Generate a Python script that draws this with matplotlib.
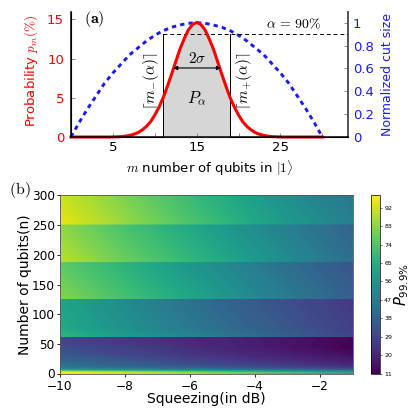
import numpy as np
import matplotlib; matplotlib.use('Agg')
import matplotlib.pyplot as plt

plt.rcParams['mathtext.fontset'] = 'cm'
plt.rcParams['font.family'] = 'DejaVu Sans'

W, H = 415, 413

# panel (a), values
m_vals = list(range(0, 31))
m_half = [i / 2 for i in range(0, 61)]
prob_pct = [0, 0, 0, 0, 0, 0, 0, 0, 0, 0, 0.01, 0.03, 0.05, 0.11, 0.2, 0.35, 0.56, 0.9, 1.35, 1.95,
            2.8, 3.8, 5.0, 6.45, 8.0, 9.6, 11.2, 12.5, 13.65, 14.35, 14.6,
            14.35, 13.65, 12.5, 11.2, 9.6, 8.0, 6.45, 5.0, 3.8, 2.8, 1.95, 1.35, 0.9, 0.56, 0.35,
            0.2, 0.11, 0.05, 0.03, 0.01, 0, 0, 0, 0, 0, 0, 0, 0, 0, 0]
cut_size = [0.0, 0.13, 0.25, 0.36, 0.47, 0.56, 0.64, 0.72, 0.78, 0.84, 0.89, 0.93, 0.96, 0.98, 0.995, 1.0,
            0.995, 0.98, 0.96, 0.93, 0.89, 0.84, 0.78, 0.72, 0.64, 0.56, 0.47, 0.36, 0.25, 0.13, 0.0]
m_minus, m_plus = 11, 19
alpha_line = 13.1

# panel (b), values
squeezing = [-10, -7.75, -5.5, -3.25, -1]
n_rows = [0, 0.8, 2, 3.5, 5, 7, 10, 14, 20, 30, 45, 61.9,
          62, 75, 125.9, 126, 187.9, 188, 251.9, 252, 300]
p_table = [
    [70, 66, 62, 58, 56],
    [97, 90, 82, 72, 62],
    [96, 88, 78, 68, 58],
    [82, 74, 66, 58, 50],
    [66, 60, 54, 47, 40],
    [54, 48, 43, 37, 31],
    [46, 41, 35, 30, 25],
    [43, 37, 31, 26, 21],
    [40, 34, 28, 23, 18],
    [35, 29, 24, 19, 14],
    [31, 26, 21, 16, 11],
    [28, 24, 20, 16, 12],
    [68, 58, 48, 38, 29],
    [64, 54, 44, 35, 27],
    [61, 51, 41, 32, 25],
    [82, 71, 60, 48, 37],
    [76, 65, 54, 43, 33],
    [89, 77, 66, 54, 42],
    [83, 71, 60, 49, 38],
    [95, 83, 71, 59, 48],
    [91, 79, 67, 55, 45],
]
cbar_ticks = [11, 20, 29, 38, 47, 56, 65, 74, 83, 92]


def px_axes(fig, left, top, right, bottom):
    return fig.add_axes([left / W, 1 - bottom / H, (right - left) / W, (bottom - top) / H])


fig = plt.figure(figsize=(W / 100, H / 100), dpi=100)

# (a)
ax = px_axes(fig, 71, 11.5, 347.5, 137)
ax2 = ax.twinx()
ax.set_zorder(ax2.get_zorder() + 1)
ax.patch.set_visible(False)

ax2.plot(m_vals, cut_size, color='#1a1aff', lw=2.1, ls=(0, (1.5, 1.4)), clip_on=False)
ax2.set_ylim(0, 1.098)
ax2.set_yticks([0, 0.2, 0.4, 0.6, 0.8, 1])
ax2.set_yticklabels(['0', '0.2', '0.4', '0.6', '0.8', '1'], color='#1a1aff', fontsize=9.5)
ax2.tick_params(axis='y', direction='in', length=3, width=0.6, color='#777777', pad=4)
ax2.set_ylabel('Normalized cut size', color='#1a1aff', fontsize=9, labelpad=5)

m_fill = [m for m in m_half if m_minus <= m <= m_plus]
p_fill = [prob_pct[m_half.index(m)] for m in m_fill]
ax.fill_between(m_fill, p_fill, 0, color='#d6d6d6', lw=0)
ax.plot([m_minus, m_minus], [0, alpha_line], color='k', lw=0.7)
ax.plot([m_plus, m_plus], [0, alpha_line], color='k', lw=0.7)
ax.plot([m_minus, 33], [alpha_line, alpha_line], color='k', lw=0.7, ls=(0, (4, 3)))
ax.plot(m_half, prob_pct, color='#ff0000', lw=2.2, clip_on=False)
ax.annotate('', xy=(12.2, 8.8), xytext=(17.9, 8.8),
            arrowprops=dict(arrowstyle='<|-|>', color='k', lw=0.8, mutation_scale=6, shrinkA=0, shrinkB=0))
ax.text(15, 10, r'$2\sigma$', ha='center', va='center', fontsize=11)
ax.text(15, 4.9, r'$P_{\alpha}$', ha='center', va='center', fontsize=12)
ax.text(9.5, 7.1, r'$\lceil m_{-}(\alpha)\rceil$', rotation=90, ha='center', va='center', fontsize=11)
ax.text(20.6, 7.1, r'$\lceil m_{+}(\alpha)\rceil$', rotation=90, ha='center', va='center', fontsize=11)
ax.text(26.6, 14.35, r'$\alpha\,=\,90\%$', ha='center', va='center', fontsize=10)
ax.text(1.5, 15, r'$\mathbf{(a)}$', ha='left', va='center', fontsize=11.5)

ax.set_xlim(0, 33)
ax.set_ylim(0, 16)
ax.set_xticks([5, 15, 25])
ax.set_xticks([10, 20, 30], minor=True)
ax.set_yticks([0, 5, 10, 15])
ax.set_yticklabels(['0', '5', '10', '15'], color='#ff0000', fontsize=9.5)
ax.tick_params(axis='x', labelsize=9.5, direction='in', length=3, width=0.6, color='#777777', pad=3)
ax.tick_params(axis='x', which='minor', direction='in', length=3, width=0.6, color='#777777')
ax.tick_params(axis='y', direction='in', length=3, width=0.6, color='#777777', pad=5)
ax.set_ylabel(r'Probability $p_m(\%)$', color='#ff0000', fontsize=9.5, labelpad=5, y=0.53)
ax.set_xlabel(r'$m$ number of qubits in $|1\rangle$', fontsize=9.5, labelpad=2.5)
for a in (ax, ax2):
    a.spines['top'].set_visible(False)
ax2.spines['right'].set_color('#555555')
ax2.spines['right'].set_linewidth(1.4)
ax.spines['right'].set_visible(False)
ax.spines['left'].set_linewidth(1.1)
ax.spines['bottom'].set_linewidth(1.1)

# (b)
bx = px_axes(fig, 59.5, 195.5, 352.5, 373.5)
mesh = bx.contourf(squeezing, n_rows, np.array(p_table), levels=np.linspace(11, 98, 88),
                   cmap='viridis', antialiased=False)
bx.set_xlim(-10, -1)
bx.set_ylim(0, 300)
bx.set_xticks([-10, -8, -6, -4, -2])
bx.set_yticks([0, 50, 100, 150, 200, 250, 300])
bx.tick_params(axis='y', labelsize=8.7, length=2.5, width=0.6, pad=1)
bx.tick_params(axis='x', labelsize=8.7, length=2.5, width=0.6, pad=2.5)
bx.set_xlabel('Squeezing(in dB)', fontsize=10, labelpad=-1)
bx.set_ylabel('Number of qubits(n)', fontsize=10, labelpad=0)
for s in bx.spines.values():
    s.set_linewidth(0.6)
    s.set_color('#555555')

cax = px_axes(fig, 371, 195.5, 380, 373.5)
cb = fig.colorbar(mesh, cax=cax)
cb.set_ticks(cbar_ticks)
cb.ax.tick_params(labelsize=4.5, length=1.5, width=0.4, pad=1.5)
cb.outline.set_linewidth(0.5)
cb.set_label(r'$P_{99.9\%}$', fontsize=10.5, labelpad=0, math_fontfamily='dejavusans')

fig.text(9 / W, 1 - 190 / H, r'$\mathrm{(b)}$', fontsize=11.5, ha='left', va='center')

fig.savefig('out.png', dpi=100)
